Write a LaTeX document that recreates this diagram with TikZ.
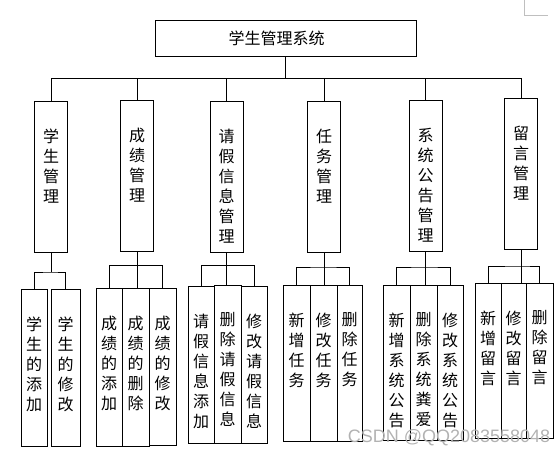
\documentclass[tikz,border=0pt]{standalone}
\usepackage{fontspec}
\newfontfamily\cjk{Noto Sans CJK SC}
\newfontfamily\wmfont{Liberation Sans}
\usetikzlibrary{positioning, calc}

\tikzset{
  box/.style={draw, line width=1pt, inner sep=0pt},
  vtext/.style={anchor=north, align=center, inner sep=0pt, yshift=-28pt,
    font=\cjk\fontsize{16}{20}\selectfont},
  link/.style={line width=1pt},
}

\begin{document}
\begin{tikzpicture}[x=1pt, y=-1pt]
\useasboundingbox (0,0) rectangle (559,456);

% root
\node[box, minimum width=261pt, minimum height=36pt,
  font=\cjk\fontsize{16}{16}\selectfont] (xsgls) at (285.5,38) {学生管理系统\kern18pt};
\coordinate (bus) at (0,78);

% first level
\foreach \name/\x/\y/\txt in {
    xsgl/51/177/{学\\生\\管\\理},
    cjgl/137/175.5/{成\\绩\\管\\理},
    qjgl/226.5/176.5/{请\\假\\信\\息\\管\\理},
    rwgl/324/177/{任\\务\\管\\理},
    gggl/425.5/176/{系\\统\\公\\告\\管\\理},
    lygl/521/174/{留\\言\\管\\理}} {
    \node[box, minimum width=33pt, minimum height=151pt,
      label={[vtext]90:{\txt}}] (\name) at (\x,\y) {};
    \draw[link] (\name.north) -- (\name.north |- bus);
}
\draw[link] (xsgls.south) -- (xsgls.south |- bus);
\draw[link] (xsgl.north |- bus) -- (lygl.north |- bus);

% second level
\foreach \name/\x/\y/\w/\h/\txt in {
    xs1/34/367.5/26/157/{学\\生\\的\\添\\加},
    xs2/65.5/367.5/29/157/{学\\生\\的\\修\\改},
    cj1/109/367/26/158/{成\\绩\\的\\添\\加},
    cj2/135.5/367/27/158/{成\\绩\\的\\删\\除},
    cj3/162.5/366.5/27/157/{成\\绩\\的\\修\\改},
    qj1/201/364.5/26/157/{请\\假\\信\\息\\添\\加},
    qj2/227.5/364/27/158/{删\\除\\请\\假\\信\\息},
    qj3/254/364.5/26/157/{修\\改\\请\\假\\信\\息},
    rw1/296.5/363/27/156/{新\\增\\任\\务},
    rw2/323.5/363/27/156/{修\\改\\任\\务},
    rw3/349.5/363/25/156/{删\\除\\任\\务},
    gg1/396.5/362.5/27/155/{新\\增\\系\\统\\公\\告},
    gg2/423.5/362.5/27/155/{删\\除\\系\\统\\粪\\爱},
    gg3/450/362.5/26/155/{修\\改\\系\\统\\公\\告},
    ly1/488/360.5/26/155/{新\\增\\留\\言},
    ly2/513.5/360.5/25/155/{修\\改\\留\\言},
    ly3/539.5/360.5/27/155/{删\\除\\留\\言}} {
    \node[box, minimum width=\w pt, minimum height=\h pt,
      label={[vtext]90:{\txt}}] (\name) at (\x,\y) {};
}

% branches
\draw[link] (xsgl.south) -- ++(0,19) coordinate (xsb);
\draw[link] (xs1.north) |- (xsb) -| (xs2.north);
\draw[link] (cjgl.south) -- ++(0,14) coordinate (cjb);
\draw[link] (cj1.north) |- (cjb) -| (cj3.north);
\draw[link] (cjb) -- (cjb |- cj2.north);
\draw[link] (qjgl.south) -- ++(0,13) coordinate (qjb);
\draw[link] (qj1.north) |- (qjb) -| (qj3.north);
\draw[link] (qjb) -- (qjb |- qj2.north);
\draw[link] (rwgl.south) -- ++(0,14) coordinate (rwb);
\draw[link] (rw1.north) |- (rwb) -| (rw3.north);
\draw[link] (rwb) -- (rwb |- rw2.north);
\draw[link] (gggl.south) -- ++(0,15) coordinate (ggb);
\draw[link] (gg1.north) |- (ggb) -| (gg3.north);
\draw[link] (ggb) -- (ggb |- gg2.north);
\draw[link] (lygl.south) -- ++(0,16) coordinate (lyb);
\draw[link] (ly1.north) |- (lyb) -| (ly3.north);
\draw[link] (lyb) -- (lyb |- ly2.north);

% corner mark and watermark
\draw[gray!50] (524,0) -- (524,15) -- (548,15);
\node[text=gray!60, font=\wmfont\fontsize{18}{18}\selectfont, inner sep=0pt]
  (wm) at (449,438) {CSDN @QQ2083558048};
\end{tikzpicture}
\end{document}
